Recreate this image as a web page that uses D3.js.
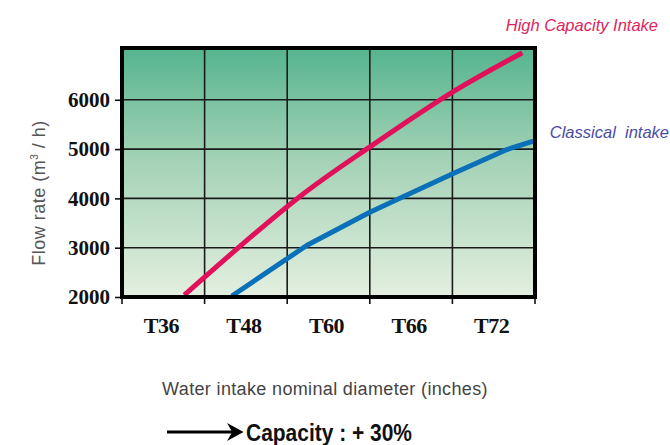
<!DOCTYPE html>
<html><head><meta charset="utf-8">
<script src="https://cdn.jsdelivr.net/npm/d3@7"></script>
<style>html,body{margin:0;padding:0;background:#fff;}svg{display:block;}</style>
</head><body>
<script>
const categories = ["T36", "T48", "T60", "T66", "T72"];
const yTicks = [2000, 3000, 4000, 5000, 6000];
// x in band units (0 = left edge of T36 band, 5 = right edge of T72 band)
const highX = [0.754, 2.135, 3.005, 4.01, 4.846];
const highY = [2040, 4014, 5049, 6165, 6955];
const classX = [1.33, 2.24, 3.00, 3.37, 4.01, 4.66, 4.98];
const classY = [2020, 3050, 3720, 4006, 4505, 4990, 5160];
const seriesNames = ["High Capacity Intake", "Classical  intake"];

const W = 670, H = 445;
const L = 122, R = 535, T = 48, B = 297;
const svg = d3.select("body").append("svg").attr("width", W).attr("height", H);

const xBand = d3.scaleBand().domain(categories).range([L, R]);
const xPos = d3.scaleLinear().domain([0, categories.length]).range([L, R]);
const y = d3.scaleLinear().domain([2000, 7050]).range([B, T]);

const defs = svg.append("defs");
const grad = defs.append("linearGradient").attr("id", "bg").attr("x1", 0).attr("y1", 0).attr("x2", 0).attr("y2", 1);
grad.append("stop").attr("offset", "0%").attr("stop-color", "#55b48f");
grad.append("stop").attr("offset", "45%").attr("stop-color", "#a4d2b6");
grad.append("stop").attr("offset", "100%").attr("stop-color", "#e3efdf");

svg.append("rect").attr("x", L).attr("y", T).attr("width", R - L).attr("height", B - T).attr("fill", "url(#bg)");

// grid
const g = svg.append("g");
g.selectAll(".hg").data(yTicks.slice(1)).join("line")
  .attr("x1", L).attr("x2", R).attr("y1", d => y(d)).attr("y2", d => y(d))
  .attr("stroke", "#1a1a1a").attr("stroke-width", 1.6);
g.selectAll(".vg").data(categories.slice(1)).join("line")
  .attr("x1", d => xBand(d)).attr("x2", d => xBand(d)).attr("y1", T).attr("y2", B)
  .attr("stroke", "#1a1a1a").attr("stroke-width", 1.6);

// y axis ticks & labels
const yAxis = d3.axisLeft(y).tickValues(yTicks).tickSize(7).tickFormat(d3.format("d"));
const ya = svg.append("g").attr("transform", `translate(${L},0)`).call(yAxis);
ya.select(".domain").remove();
ya.selectAll(".tick line").attr("stroke", "#111").attr("stroke-width", 1.6);
ya.selectAll(".tick text").attr("x", -12).attr("fill", "#111")
  .style("font-family", "'Liberation Serif','Times New Roman',serif").style("font-weight", "bold").style("font-size", "21px");

// x axis ticks at band boundaries
const bounds = categories.map(c => xBand(c)).concat([R]);
svg.selectAll(".xt").data(bounds).join("line")
  .attr("x1", d => d).attr("x2", d => d).attr("y1", B).attr("y2", B + 7)
  .attr("stroke", "#111").attr("stroke-width", 1.6);
svg.selectAll(".xl").data(categories).join("text")
  .attr("x", d => xBand(d) + xBand.bandwidth() / 2 - 2).attr("y", 333)
  .attr("text-anchor", "middle").attr("fill", "#111")
  .style("font-family", "'Liberation Serif','Times New Roman',serif").style("font-weight", "bold").style("font-size", "22px")
  .style("letter-spacing", "-0.5px")
  .text(d => d);

// lines
const lineSmooth = d3.line().x(d => xPos(d[0])).y(d => y(d[1])).curve(d3.curveCatmullRom.alpha(0.5));
const lineStraight = d3.line().x(d => xPos(d[0])).y(d => y(d[1]));
const highPts = highX.map((v, i) => [v, highY[i]]);
const classPts = classX.map((v, i) => [v, classY[i]]);
svg.append("path").datum(highPts).attr("d", lineSmooth).attr("fill", "none")
  .attr("stroke", "#e2105a").attr("stroke-width", 5);
svg.append("path").datum(classPts).attr("d", lineStraight).attr("fill", "none")
  .attr("stroke", "#0a70b8").attr("stroke-width", 5).attr("stroke-linejoin", "round");

// frame
svg.append("rect").attr("x", L).attr("y", T).attr("width", R - L).attr("height", B - T)
  .attr("fill", "none").attr("stroke", "#000").attr("stroke-width", 4);

// series labels
svg.append("text").attr("x", 658).attr("y", 31).attr("text-anchor", "end")
  .attr("fill", "#e0245e").style("font-family", "'Liberation Sans',Arial,sans-serif")
  .style("font-style", "italic").style("font-size", "16.5px").text(seriesNames[0]);
svg.append("text").attr("x", 669).attr("y", 138).attr("text-anchor", "end")
  .attr("fill", "#4b4ba3").style("font-family", "'Liberation Sans',Arial,sans-serif")
  .style("font-style", "italic").style("font-size", "16.5px").style("white-space", "pre")
  .attr("xml:space", "preserve").text(seriesNames[1]);

// axis titles
svg.append("text").attr("transform", "translate(45,193) rotate(-90)").attr("text-anchor", "middle")
  .attr("fill", "#555").style("font-family", "'Liberation Sans',Arial,sans-serif").style("font-size", "18px")
  .style("letter-spacing", "0.5px")
  .html('Flow rate (m<tspan font-size="10" dy="-7">3</tspan><tspan dy="7"> / h)</tspan>');
svg.append("text").attr("x", 325).attr("y", 395).attr("text-anchor", "middle")
  .attr("fill", "#444").style("font-family", "'Liberation Sans',Arial,sans-serif").style("font-size", "18px")
  .style("letter-spacing", "0.35px")
  .text("Water intake nominal diameter (inches)");

// arrow note
svg.append("line").attr("x1", 167).attr("x2", 236).attr("y1", 432).attr("y2", 432)
  .attr("stroke", "#000").attr("stroke-width", 3);
svg.append("path").attr("d", "M229,425 L242,432 L229,439 L233,432 Z").attr("fill", "#000")
  .attr("stroke", "#000").attr("stroke-width", 1.5).attr("stroke-linejoin", "miter");
svg.append("text").attr("x", 246).attr("y", 441)
  .attr("fill", "#111").style("font-family", "'Liberation Sans',Arial,sans-serif")
  .style("font-weight", "bold").style("font-size", "23px")
  .attr("textLength", 166).attr("lengthAdjust", "spacingAndGlyphs").text("Capacity : + 30%");
</script>
</body></html>
